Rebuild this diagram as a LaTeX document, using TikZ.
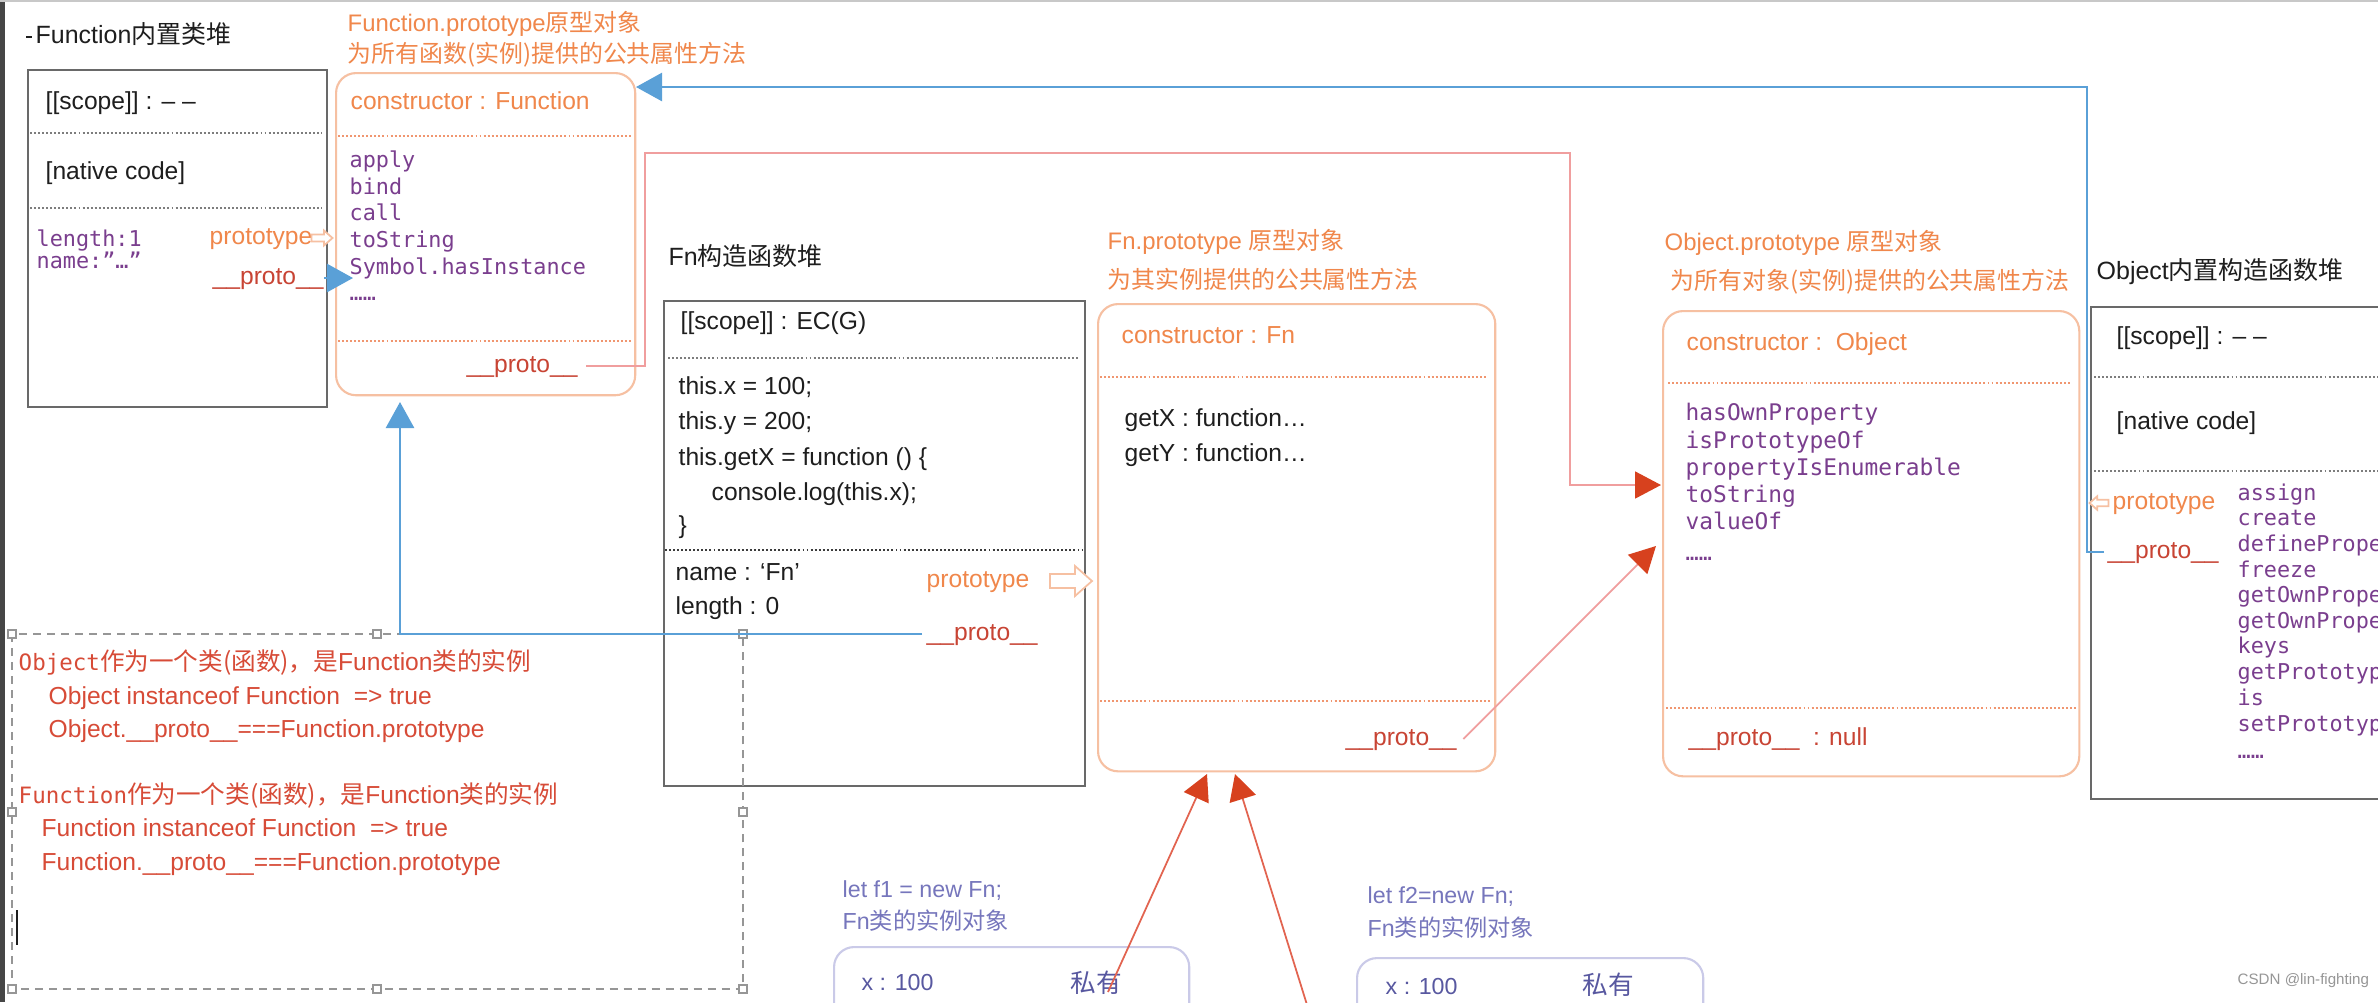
\documentclass[tikz,border=0pt]{standalone}
\usepackage{fontspec}
\setmainfont{Liberation Sans}
\setmonofont{DejaVu Sans Mono}
\newfontfamily\cjk{Noto Sans CJK SC}
\usetikzlibrary{arrows.meta}

\definecolor{inkblack}{RGB}{30,30,30}
\definecolor{boxgray}{RGB}{105,105,105}
\definecolor{sepgray}{RGB}{125,125,125}
\definecolor{sepdark}{RGB}{60,60,60}
\definecolor{orangetxt}{RGB}{240,135,75}
\definecolor{orangebox}{RGB}{246,192,162}
\definecolor{orangesep}{RGB}{240,150,112}
\definecolor{protored}{RGB}{200,68,52}
\definecolor{linkred}{RGB}{240,158,158}
\definecolor{linkredb}{RGB}{226,100,80}
\definecolor{tipred}{RGB}{215,65,30}
\definecolor{linkblue}{RGB}{90,160,215}
\definecolor{codepurple}{RGB}{122,62,142}
\definecolor{notered}{RGB}{215,75,55}
\definecolor{framegray}{RGB}{150,150,150}
\definecolor{instblue}{RGB}{118,118,188}
\definecolor{instdark}{RGB}{88,88,160}
\definecolor{instbox}{RGB}{202,202,232}
\definecolor{edgegray}{RGB}{70,70,70}
\definecolor{topgray}{RGB}{200,200,200}

\newcommand{\zh}[1]{{\cjk #1}}
\newcommand{\protolbl}{\_\_proto\_\_}

\tikzset{
  lbl/.style={anchor=west, inner sep=0pt, text height=5pt, text depth=1.4pt, text=inkblack, font=\fontsize{7}{8}\selectfont},
  headtxt/.style={lbl, font=\fontsize{7.1}{8}\selectfont},
  codetxt/.style={lbl, text=codepurple, font=\fontsize{6.2}{7}\ttfamily},
  ortxt/.style={lbl, text=orangetxt},
  ortitle/.style={lbl, text=orangetxt, font=\fontsize{6.8}{8}\selectfont},
  redtxt/.style={lbl, text=protored},
  notetxt/.style={lbl, text=notered},
  insttxt/.style={lbl, text=instblue, font=\fontsize{6.6}{8}\selectfont},
  heapbox/.style={draw=boxgray, line width=0.55pt, anchor=north west, inner sep=0pt},
  protobox/.style={draw=orangebox, line width=0.6pt, rounded corners=0.2cm, anchor=north west, inner sep=0pt},
  instbox/.style={draw=instbox, line width=0.6pt, rounded corners=0.2cm, anchor=north west, inner sep=0pt},
  graysep/.style={draw=sepgray, line width=0.55pt, dash pattern=on 0.55pt off 0.6pt},
  orsep/.style={draw=orangesep, line width=0.55pt, dash pattern=on 0.55pt off 0.6pt},
  blueline/.style={draw=linkblue, line width=0.75pt, -{Triangle[width=0.28cm,length=0.26cm]}},
  redlink/.style={draw=linkred, line width=0.5pt, -{Triangle[width=0.27cm,length=0.26cm,color=tipred]}},
  selhandle/.style={draw=framegray, fill=white, line width=0.4pt, minimum size=0.08cm, inner sep=0pt},
  hollowarr/.pic={\draw[draw=orangebox, line width=0.5pt, fill=white] (-21,-7) -- (4,-7) -- (4,-15) -- (21,0) -- (4,15) -- (4,7) -- (-21,7) -- cycle;}
}

\begin{document}
\begin{tikzpicture}[x=0.01cm, y=-0.01cm]
\useasboundingbox (0,0) rectangle (2378,1002);
\clip (0,0) rectangle (2378,1002);
\fill[white] (0,0) rectangle (2378,1002);
\fill[edgegray] (0,0) rectangle (5,1002);
\draw[topgray, line width=0.8pt] (0,1) -- (2378,1);

% Function heap
\draw[inkblack, line width=0.6pt] (26,37) -- (32,37);
\node[headtxt] (ftitle) at (35,37) {Function\zh{内置类堆}};
\node[heapbox, minimum width=2.99cm, minimum height=3.37cm] (fheap) at (27,69) {};
\node[lbl] (fhscope) at (45,103) {[[scope]] : \textendash\ \textendash};
\draw[graysep] (30,133) -- (322,133);
\node[lbl] (fhnative) at (45,173) {[native code]};
\draw[graysep] (30,208) -- (322,208);
\node[codetxt] (fhlen) at (36,240) {length:1};
\node[codetxt] (fhname) at (36,262) {name:”…”};
\node[ortxt] (fhprot) at (209,238) {prototype};
\pic at (322,238) [scale=0.5] {hollowarr};
\node[redtxt] (fhproto) at (212,278) {\protolbl};

% Function.prototype
\node[ortitle] (fptitlea) at (347,25) {Function.prototype\zh{原型对象}};
\node[ortitle] (fptitleb) at (347,56) {\zh{为所有函数(实例)提供的公共属性方法}};
\node[protobox, minimum width=2.99cm, minimum height=3.22cm] (fproto) at (335,72) {};
\node[ortxt] (fpcons) at (350,103) {constructor : Function};
\draw[orsep] (338,136) -- (631,136);
\node[codetxt] (fpm1) at (349,161) {apply};
\node[codetxt] (fpm2) at (349,188) {bind};
\node[codetxt] (fpm3) at (349,214) {call};
\node[codetxt] (fpm4) at (349,241) {toString};
\node[codetxt] (fpm5) at (349,268) {Symbol.hasInstance};
\node[codetxt] (fpm6) at (349,294) {……};
\draw[orsep] (338,341) -- (631,341);
\node[redtxt] (fpproto) at (466,366) {\protolbl};

% Fn heap
\node[headtxt] (fntitle) at (668,259) {Fn\zh{构造函数堆}};
\node[heapbox, minimum width=4.21cm, minimum height=4.85cm] (fnheap) at (663,300) {};
\node[lbl] (fnscope) at (680,323) {[[scope]] : EC(G)};
\draw[graysep] (668,358) -- (1080,358);
\node[lbl] (fnx) at (678,388) {this.x = 100;};
\node[lbl] (fny) at (678,423) {this.y = 200;};
\node[lbl] (fngx) at (678,459) {this.getX = function () \{};
\node[lbl] (fnlog) at (711,494) {console.log(this.x);};
\node[lbl] (fnend) at (678,527) {\}};
\draw[graysep, draw=sepdark] (665,550) -- (1083,550);
\node[lbl] (fnname) at (675,574) {name : ‘Fn’};
\node[lbl] (fnlen) at (675,608) {length : 0};
\node[ortxt] (fnprot) at (926,581) {prototype};
\pic at (1071,581) {hollowarr};
\node[redtxt] (fnproto) at (926,634) {\protolbl};

% Fn.prototype
\node[ortitle] (fnptitlea) at (1107,243) {Fn.prototype \zh{原型对象}};
\node[ortitle] (fnptitleb) at (1107,282) {\zh{为其实例提供的公共属性方法}};
\node[protobox, minimum width=3.97cm, minimum height=4.67cm] (fnpbox) at (1097,303) {};
\node[ortxt] (fnpcons) at (1121,337) {constructor : Fn};
\draw[orsep] (1100,377) -- (1487,377);
\node[lbl] (fnpgx) at (1124,420) {getX : function…};
\node[lbl] (fnpgy) at (1124,455) {getY : function…};
\draw[orsep] (1100,701) -- (1490,701);
\node[redtxt] (fnpproto) at (1345,739) {\protolbl};

% Object.prototype
\node[ortitle] (optitlea) at (1664,244) {Object.prototype \zh{原型对象}};
\node[ortitle] (optitleb) at (1670,283) {\zh{为所有对象(实例)提供的公共属性方法}};
\node[protobox, minimum width=4.16cm, minimum height=4.65cm] (opbox) at (1662,310) {};
\node[ortxt] (opcons) at (1686,344) {constructor :\ \ Object};
\draw[orsep] (1668,383) -- (2072,383);
\node[codetxt, font=\fontsize{6.5}{7}\ttfamily] (opm1) at (1685,414) {hasOwnProperty};
\node[codetxt, font=\fontsize{6.5}{7}\ttfamily] (opm2) at (1685,442) {isPrototypeOf};
\node[codetxt, font=\fontsize{6.5}{7}\ttfamily] (opm3) at (1685,469) {propertyIsEnumerable};
\node[codetxt, font=\fontsize{6.5}{7}\ttfamily] (opm4) at (1685,496) {toString};
\node[codetxt, font=\fontsize{6.5}{7}\ttfamily] (opm5) at (1685,523) {valueOf};
\node[codetxt] (opm6) at (1685,554) {……};
\draw[orsep] (1666,708) -- (2076,708);
\node[redtxt] (opproto) at (1688,739) {\protolbl\ \ : null};

% Object heap
\node[headtxt] (ohtitle) at (2096,273) {Object\zh{内置构造函数堆}};
\node[heapbox, minimum width=3.4cm, minimum height=4.92cm] (ohbox) at (2090,306) {};
\node[lbl] (ohscope) at (2116,338) {[[scope]] : \textendash\ \textendash};
\draw[graysep] (2094,377) -- (2378,377);
\node[lbl] (ohnative) at (2116,423) {[native code]};
\draw[graysep] (2094,471) -- (2378,471);
\pic at (2099,503) [scale=0.45, rotate=180] {hollowarr};
\node[ortxt] (ohprot) at (2112,503) {prototype};
\node[redtxt] (ohproto) at (2107,552) {\protolbl};
\node[codetxt] (ohm1) at (2237,494) {assign};
\node[codetxt] (ohm2) at (2237,519) {create};
\node[codetxt] (ohm3) at (2237,545) {definePrope};
\node[codetxt] (ohm4) at (2237,571) {freeze};
\node[codetxt] (ohm5) at (2237,596) {getOwnPrope};
\node[codetxt] (ohm6) at (2237,622) {getOwnPrope};
\node[codetxt] (ohm7) at (2237,647) {keys};
\node[codetxt] (ohm8) at (2237,673) {getPrototyp};
\node[codetxt] (ohm9) at (2237,699) {is};
\node[codetxt] (ohm10) at (2237,725) {setPrototyp};
\node[codetxt] (ohm11) at (2237,752) {……};

% selection frame with notes
\draw[framegray, line width=0.5pt, dash pattern=on 0.08cm off 0.06cm] (12,634) rectangle (743,989);
\node[selhandle] (sh1) at (12,634) {};
\node[selhandle] (sh2) at (377,634) {};
\node[selhandle] (sh3) at (743,634) {};
\node[selhandle] (sh4) at (12,812) {};
\node[selhandle] (sh5) at (743,812) {};
\node[selhandle] (sh6) at (12,989) {};
\node[selhandle] (sh7) at (377,989) {};
\node[selhandle] (sh8) at (743,989) {};
\node[notetxt] (notea) at (18,664) {{\ttfamily\fontsize{6.4}{7}\selectfont Object}\zh{作为一个类(函数)，是}Function\zh{类的实例}};
\node[notetxt] (noteb) at (48,698) {Object instanceof Function\ \ => true};
\node[notetxt] (notec) at (48,731) {Object.\_\_proto\_\_===Function.prototype};
\node[notetxt] (noted) at (18,797) {{\ttfamily\fontsize{6.4}{7}\selectfont Function}\zh{作为一个类(函数)，是}Function\zh{类的实例}};
\node[notetxt] (notee) at (41,830) {Function instanceof Function\ \ => true};
\node[notetxt] (notef) at (41,864) {Function.\_\_proto\_\_===Function.prototype};
\draw[inkblack, line width=0.8pt] (17,910) -- (17,945);

% instances
\node[insttxt] (fonelet) at (842,891) {let f1 = new Fn;};
\node[insttxt] (fonedesc) at (842,923) {Fn\zh{类的实例对象}};
\node[instbox, minimum width=3.55cm, minimum height=1.2cm] (fonebox) at (833,946) {};
\node[insttxt, text=instdark] (fonex) at (861,984) {x : 100};
\node[insttxt, text=instdark, font=\fontsize{7.3}{8}\selectfont] (fonepriv) at (1070,986) {\zh{私有}};
\node[insttxt] (ftwolet) at (1367,897) {let f2=new Fn;};
\node[insttxt] (ftwodesc) at (1367,930) {Fn\zh{类的实例对象}};
\node[instbox, minimum width=3.46cm, minimum height=1.2cm] (ftwobox) at (1356,957) {};
\node[insttxt, text=instdark] (ftwox) at (1385,988) {x : 100};
\node[insttxt, text=instdark, font=\fontsize{7.3}{8}\selectfont] (ftwopriv) at (1582,988) {\zh{私有}};

\node[lbl, text=framegray, font=\fontsize{4.3}{5}\selectfont] (mark) at (2237,978) {CSDN @lin-fighting};

% connectors
\coordinate (fhtip) at (353,278);
\draw[blueline] (fhproto.east) -- (fhtip);
\coordinate (fptip) at (400,402);
\draw[blueline] ([xshift=-0.04cm]fnproto.west) -| (fptip);
\coordinate (ohbend) at (2087,87);
\coordinate (fptop) at (636,87);
\draw[blueline] ([xshift=-0.03cm]ohproto.west) -| (ohbend) -- (fptop);
\coordinate (fpbenda) at (645,153);
\coordinate (fpbendb) at (1570,153);
\coordinate (optipa) at (1661,485);
\draw[redlink] ([xshift=0.08cm]fpproto.east) -| (fpbenda) -- (fpbendb) |- (optipa);
\coordinate (optipb) at (1656,546);
\draw[redlink] ([xshift=0.06cm]fnpproto.east) -- (optipb);
\coordinate (fonesrc) at (1108,992);
\coordinate (ftwosrc) at (1308,1008);
\coordinate (fnptipl) at (1207,774);
\coordinate (fnptipr) at (1235,774);
\draw[redlink, draw=linkredb] (fonesrc) -- (fnptipl);
\draw[redlink, draw=linkredb] (ftwosrc) -- (fnptipr);
\end{tikzpicture}
\end{document}
